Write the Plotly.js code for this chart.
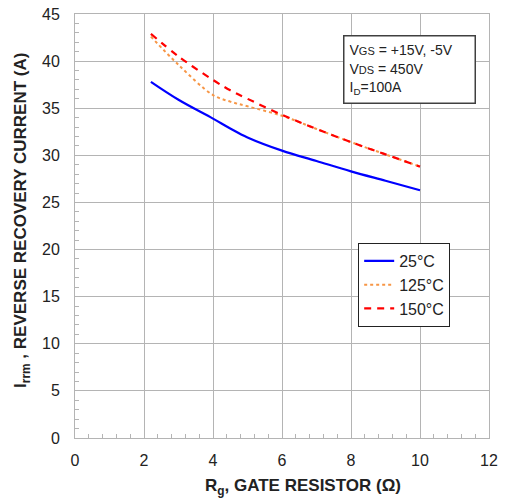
<!DOCTYPE html>
<html>
<head>
<meta charset="utf-8">
<script src="https://cdn.plot.ly/plotly-3.0.1.min.js"></script>
<style>html,body{margin:0;padding:0;background:#fff;}#chart{width:505px;height:500px;}</style>
</head>
<body>
<div id="chart"></div>
<script>
var rg = [2.2, 3, 4, 4.5, 5, 6, 7, 8, 9, 10];
var irr25 = [37.8, 35.9, 33.9, 32.85, 31.9, 30.5, 29.4, 28.3, 27.3, 26.3];
var irr125 = [42.6, 39.6, 36.4, 35.7, 35.2, 34.2, 32.8, 31.4, 30.1, 28.8];
var irr150 = [42.9, 40.5, 38.0, 36.9, 36.0, 34.3, 32.8, 31.4, 30.1, 28.8];
var names = ['25°C', '125°C', '150°C'];

var font = 'Liberation Sans, Arial, sans-serif';
var traces = [
  {x: rg, y: irr25, name: names[0], mode: 'lines', line: {color: '#0000FF', width: 2.2, shape: 'spline', smoothing: 1}},
  {x: rg, y: irr125, name: names[1], mode: 'lines', line: {color: '#F79646', width: 2, dash: 'dot', shape: 'spline'}},
  {x: rg, y: irr150, name: names[2], mode: 'lines', line: {color: '#FF0000', width: 2.2, dash: '7px,6px', shape: 'spline'}}
];
var layout = {
  width: 505, height: 500,
  margin: {l: 75, r: 16, t: 14, b: 62},
  paper_bgcolor: '#fff', plot_bgcolor: '#fff',
  font: {family: font, size: 16, color: '#222'},
  showlegend: true,
  legend: {x: 0.684, y: 0.46, xanchor: 'left', yanchor: 'top', bordercolor: '#222', borderwidth: 1,
           bgcolor: '#fff', font: {family: font, size: 16, color: '#222'}, tracegroupgap: 0, itemwidth: 30},
  xaxis: {range: [0, 12], dtick: 2, tick0: 0, showgrid: true, gridcolor: '#b4b4b4', gridwidth: 1,
          zeroline: false, showline: true, linecolor: '#b4b4b4', linewidth: 1, mirror: true,
          ticks: 'inside', ticklen: 4, tickcolor: '#b4b4b4', ticklabelstandoff: 8,
          minor: {dtick: 0.4, ticks: 'inside', ticklen: 4, tickcolor: '#b4b4b4', showgrid: false},
          tickfont: {family: font, size: 16, color: '#222'}},
  yaxis: {range: [0, 45], dtick: 5, tick0: 0, showgrid: true, gridcolor: '#b4b4b4', gridwidth: 1,
          zeroline: false, showline: true, linecolor: '#b4b4b4', linewidth: 1, mirror: true,
          ticks: 'inside', ticklen: 4, tickcolor: '#b4b4b4', ticklabelstandoff: 11,
          minor: {dtick: 1, ticks: 'inside', ticklen: 4, tickcolor: '#b4b4b4', showgrid: false},
          tickfont: {family: font, size: 16, color: '#222'}},
  annotations: [{
    xref: 'paper', yref: 'paper', x: 0.647, y: 0.951, xanchor: 'left', yanchor: 'top',
    text: 'V<span style="font-size:11px">GS</span> = +15V, -5V<br>V<span style="font-size:11px">DS</span> = 450V<br>I<sub>D</sub>=100A',
    align: 'left', showarrow: false, font: {family: font, size: 14, color: '#222'},
    bordercolor: '#404040', borderwidth: 1.5, borderpad: 5, bgcolor: '#fff', width: 120, height: 56, valign: 'middle'
  }, {
    xref: 'paper', yref: 'paper', x: 0.551, y: -0.116, xanchor: 'center', yanchor: 'middle',
    text: '<b>R<sub>g</sub>, GATE RESISTOR (Ω)</b>', showarrow: false,
    font: {family: font, size: 17, color: '#222'}
  }, {
    xref: 'paper', yref: 'paper', x: -0.128, y: 0.512, xanchor: 'center', yanchor: 'middle', textangle: -90,
    text: '<b>I<sub>rrm</sub> , REVERSE RECOVERY CURRENT (A)</b>', showarrow: false,
    font: {family: font, size: 17, color: '#222'}
  }]
};
Plotly.newPlot('chart', traces, layout, {displayModeBar: false, staticPlot: true});
</script>
</body>
</html>
